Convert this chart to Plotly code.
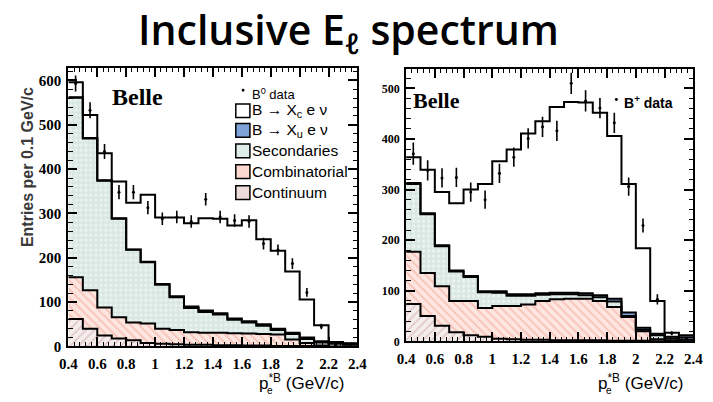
import numpy as np
import plotly.graph_objects as go

# ---------------- data ----------------
bin_edges = [0.4, 0.5, 0.6, 0.7, 0.8, 0.9, 1.0, 1.1, 1.2, 1.3, 1.4,
             1.5, 1.6, 1.7, 1.8, 1.9, 2.0, 2.1, 2.2, 2.3, 2.4]
bin_centers = [0.45, 0.55, 0.65, 0.75, 0.85, 0.95, 1.05, 1.15, 1.25, 1.35,
               1.45, 1.55, 1.65, 1.75, 1.85, 1.95, 2.05, 2.15, 2.25, 2.35]

# B0 panel (left)
b0_data = [593, 533, 440, 348, 348, 313, 288, 292, 282, 332,
           292, 284, 282, 232, 218, 187, 122, 45, 3, 1]
b0_err = [18, 18, 17, 16, 16, 15, 14, 14, 14, 14,
          14, 14, 14, 13, 12, 12, 10, 6, 2, 1]
b0_continuum = [62, 40, 25, 18, 14, 8, 6, 5, 4, 4, 3, 3, 2, 2, 1, 1, 1, 0, 0, 0]
b0_combinatorial = [94, 87, 63, 48, 40, 44, 34, 32, 28, 27, 28, 27, 27, 26, 26, 15, 7, 2, 0, 0]
b0_secondaries = [405, 342, 286, 222, 164, 138, 99, 74, 55, 47, 41, 30, 25, 19, 10, 12, 9, 7, 6, 4]
b0_xu = [1, 1, 1, 1, 1, 1, 2, 2, 3, 3, 3, 3, 3, 3, 3, 3, 3, 3, 2, 2]
b0_xc = [34, 52, 61, 83, 105, 151, 150, 178, 188, 208, 213, 210, 228, 192, 176, 138, 86, 36, 2, 1]

# B+ panel (right)
bp_data = [371, 338, 323, 324, 295, 280, 332, 364, 401, 424,
           416, 510, 475, 461, 432, 306, 229, 83, 16, 5]
bp_err = [22, 20, 19, 19, 19, 18, 19, 19, 20, 20,
          20, 21, 21, 20, 20, 18, 14, 10, 4, 2]
bp_continuum = [74, 50, 31, 18, 12, 9, 5, 4, 3, 3, 2, 2, 2, 2, 1, 1, 1, 0, 0, 0]
bp_combinatorial = [103, 85, 78, 62, 68, 57, 65, 66, 70, 77, 81, 82, 82, 78, 67, 47, 19, 4, 1, 0]
bp_secondaries = [134, 116, 79, 58, 47, 31, 26, 20, 17, 12, 10, 9, 7, 7, 11, 2, 3, 8, 4, 3]
bp_xu = [2, 2, 2, 2, 2, 2, 3, 3, 3, 3, 3, 3, 4, 4, 5, 7, 4, 3, 4, 5]
bp_xc = [51, 86, 105, 133, 171, 212, 257, 286, 318, 340, 367, 377, 377, 361, 322, 254, 157, 65, 8, 4]

x_ticks = [0.4, 0.6, 0.8, 1.0, 1.2, 1.4, 1.6, 1.8, 2.0, 2.2, 2.4]
x_ticktext = ["0.4", "0.6", "0.8", "1", "1.2", "1.4", "1.6", "1.8", "2", "2.2", "2.4"]
y0_ticks = [0, 100, 200, 300, 400, 500, 600]
yp_ticks = [0, 100, 200, 300, 400, 500]

# ---------------- styling ----------------
W, H = 713, 402


def px(x):
    return x / W


def py(y):
    return 1 - y / H


comp_styles = [
    dict(name="Continuum", fillcolor="#f3e9e9",
         fillpattern=dict(shape="/", fgcolor="#c99c9c", bgcolor="#f5ecec", size=6, solidity=0.25)),
    dict(name="Combinatorial", fillcolor="#fde4dd",
         fillpattern=dict(shape="\\", fgcolor="#ef9c8c", bgcolor="#fde6e0", size=6, solidity=0.3)),
    dict(name="Secondaries", fillcolor="#dfece7",
         fillpattern=dict(shape=".", fgcolor="#ffffff", bgcolor="#d8e7e1", size=5, solidity=0.35)),
    dict(name="Xu", fillcolor="#7ea3d8", fillpattern=None),
    dict(name="Xc", fillcolor=None, fillpattern=None),
]

fig = go.Figure()


def add_panel(xa, ya, comps, data, err):
    cum = np.cumsum(np.array(comps, dtype=float), axis=0)
    for i, st in enumerate(comp_styles):
        yv = list(cum[i]) + [cum[i][-1]]
        kw = dict(x=bin_edges, y=yv, xaxis=xa, yaxis=ya, mode="lines",
                  line=dict(shape="hv", color="black", width=2),
                  showlegend=False, hoverinfo="skip")
        if st["fillcolor"] is not None:
            kw["fill"] = "tozeroy" if i == 0 else "tonexty"
            kw["fillcolor"] = st["fillcolor"]
            if st["fillpattern"] is not None:
                kw["fillpattern"] = st["fillpattern"]
        fig.add_trace(go.Scatter(**kw))
    fig.add_trace(go.Scatter(
        x=bin_centers, y=data, xaxis=xa, yaxis=ya, mode="markers",
        marker=dict(color="black", size=3),
        error_y=dict(type="data", array=err, thickness=1.6, width=0, color="black"),
        showlegend=False, hoverinfo="skip"))


add_panel("x", "y", [b0_continuum, b0_combinatorial, b0_secondaries, b0_xu, b0_xc], b0_data, b0_err)
add_panel("x2", "y2", [bp_continuum, bp_combinatorial, bp_secondaries, bp_xu, bp_xc], bp_data, bp_err)

serif = "Liberation Serif"
tick_font = dict(family=serif, size=15, color="black")
minor_x = dict(ticks="inside", ticklen=4.5, tickwidth=1, tickcolor="black", tick0=0.4, dtick=0.04)
minor_y = dict(ticks="inside", ticklen=4.5, tickwidth=1, tickcolor="black", tick0=0, dtick=20)


def axis(**kw):
    d = dict(showline=True, linecolor="black", linewidth=2, mirror="allticks",
             ticks="inside", ticklen=9, tickwidth=1.5, tickcolor="black",
             showgrid=False, zeroline=False, fixedrange=True)
    d.update(kw)
    return d


def bold(labels):
    return ["<b>%s</b>" % s for s in labels]


fig.update_layout(
    width=W, height=H,
    margin=dict(l=0, r=0, t=0, b=0),
    paper_bgcolor="white", plot_bgcolor="white",
    showlegend=False,
    xaxis=axis(domain=[px(61), px(358)], range=[0.4, 2.4], anchor="y",
               tickmode="array", tickvals=x_ticks, ticktext=bold(x_ticktext),
               tickfont=tick_font, ticklabelstandoff=3, minor=minor_x),
    yaxis=axis(domain=[py(353.5), py(69)], range=[0, 629], anchor="x",
               tickmode="array", tickvals=y0_ticks, ticktext=bold([str(v) for v in y0_ticks]),
               tickfont=tick_font, ticklabelstandoff=2, minor=minor_y),
    xaxis2=axis(domain=[px(408), px(703)], range=[0.4, 2.4], anchor="y2",
                tickmode="array", tickvals=x_ticks, ticktext=bold(x_ticktext),
                tickfont=tick_font, ticklabelstandoff=3, minor=minor_x),
    yaxis2=axis(domain=[py(348.3), py(70)], range=[0, 539], anchor="x2",
                tickmode="array", tickvals=yp_ticks, ticktext=bold([str(v) for v in yp_ticks]),
                tickfont=dict(family=serif, size=12, color="black"),
                ticklabelstandoff=2, minor=minor_y),
)

ann = []
shapes = []

# Title
ann.append(dict(x=px(349), y=py(32), xref="paper", yref="paper", xanchor="center", yanchor="middle",
                text="Inclusive E<sub>ℓ</sub> spectrum", showarrow=False,
                font=dict(family="Open Sans", size=41, color="black", weight=600)))

# y title
ann.append(dict(x=px(19), y=py(170), xref="paper", yref="paper", xanchor="center", yanchor="middle",
                text="<b>Entries per 0.1 GeV/c</b>", textangle=-90, showarrow=False,
                font=dict(family="Liberation Sans", size=16, color="#3a3a3a")))

# x titles
for x0 in (255, 603):
    ann.append(dict(x=px(x0), y=py(390), xref="paper", yref="paper", xanchor="left", yanchor="middle",
                    text="p<sup>*B</sup> (GeV/c)", showarrow=False,
                    font=dict(family="Liberation Sans", size=17, color="black")))
    ann.append(dict(x=px(x0 + 8), y=py(398), xref="paper", yref="paper", xanchor="left", yanchor="middle",
                    text="e", showarrow=False,
                    font=dict(family="Liberation Sans", size=10, color="black")))

# Belle labels
ann.append(dict(x=px(104), y=py(99), xref="paper", yref="paper", xanchor="left", yanchor="middle",
                text="<b>Belle</b>", showarrow=False,
                font=dict(family=serif, size=24, color="black")))
ann.append(dict(x=px(413), y=py(103), xref="paper", yref="paper", xanchor="left", yanchor="middle",
                text="<b>Belle</b>", showarrow=False,
                font=dict(family=serif, size=22, color="black")))

# Legend (left panel)
shapes.append(dict(type="circle", xref="paper", yref="paper",
                   x0=px(239), x1=px(242), y0=py(90.5), y1=py(93.5),
                   fillcolor="black", line=dict(width=0)))
ann.append(dict(x=px(248), y=py(96), xref="paper", yref="paper", xanchor="left", yanchor="middle",
                text="B<sup>0</sup> data", showarrow=False,
                font=dict(family="Liberation Sans", size=13, color="black")))
legend_rows = [
    ("B → X<sub>c</sub> e ν", "white", 113),
    ("B → X<sub>u</sub> e ν", "#7ea3d8", 133),
    ("Secondaries", "#dfece7", 154),
    ("Combinatorial", "#fbd9d0", 175),
    ("Continuum", "#eddcdc", 196.5),
]
for label, col, yc in legend_rows:
    shapes.append(dict(type="rect", xref="paper", yref="paper",
                       x0=px(233), x1=px(247.5), y0=py(yc + 7), y1=py(yc - 7),
                       fillcolor=col, line=dict(color="black", width=1.5)))
    ann.append(dict(x=px(248), y=py(yc), xref="paper", yref="paper", xanchor="left", yanchor="middle",
                    text=label, showarrow=False,
                    font=dict(family="Liberation Sans", size=15.5, color="black")))

# Legend (right panel)
shapes.append(dict(type="circle", xref="paper", yref="paper",
                   x0=px(622.5), x1=px(625.5), y0=py(100), y1=py(103),
                   fillcolor="black", line=dict(width=0)))
ann.append(dict(x=px(630), y=py(104), xref="paper", yref="paper", xanchor="left", yanchor="middle",
                text="<b>B<sup>+</sup> data</b>", showarrow=False,
                font=dict(family="Liberation Sans", size=14, color="black")))

fig.update_layout(annotations=ann, shapes=shapes)

fig.write_html("out.html")
